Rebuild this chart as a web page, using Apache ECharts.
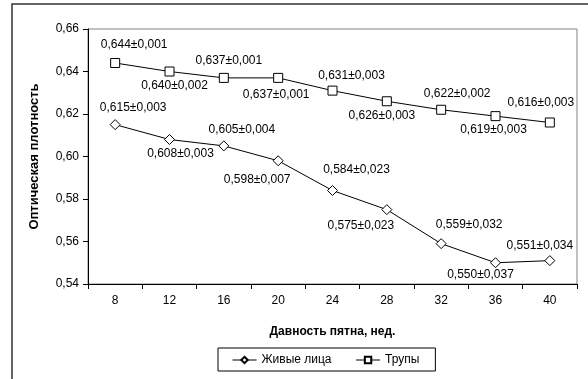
<!DOCTYPE html>
<html>
<head>
<meta charset="utf-8">
<script src="https://cdn.jsdelivr.net/npm/echarts@6/dist/echarts.min.js"></script>
<style>
  html, body { margin: 0; padding: 0; background: #fff; }
  #chart { width: 588px; height: 379px; }
</style>
</head>
<body>
<div id="chart"></div>
<script>
// weeks since the stain was made
const weeks = ["8", "12", "16", "20", "24", "28", "32", "36", "40"];

// live persons: mean optical density and its error
const liveMean = [0.615, 0.608, 0.605, 0.598, 0.584, 0.575, 0.559, 0.550, 0.551];
const liveErr = ["0,003", "0,003", "0,004", "0,007", "0,023", "0,023", "0,032", "0,037", "0,034"];

// corpses
const deadMean = [0.644, 0.640, 0.637, 0.637, 0.631, 0.626, 0.622, 0.619, 0.616];
const deadErr = ["0,001", "0,002", "0,001", "0,001", "0,003", "0,003", "0,002", "0,003", "0,003"];

// label nudges relative to each marker (px)
const liveLabelOffset = [[18, -17], [11, 14], [18, -16], [-21, 19], [24, -21], [-26, 16], [28, -19], [-15, 12], [-10, -15]];
const deadLabelOffset = [[19, -18], [5, 14], [5, -17], [-2, 17], [19, -15], [-5, 14], [16, -16], [-2, 14], [-9, -20]];

const fmt = (v) => v.toFixed(3).replace(".", ",");

function buildData(means, errs, offsets) {
  return means.map((v, i) => ({
    value: v,
    label: {
      show: true,
      position: "inside",
      offset: offsets[i],
      formatter: fmt(v) + "±" + errs[i],
    },
  }));
}

const chart = echarts.init(document.getElementById("chart"));
const font = "Liberation Sans, Arial, sans-serif";

chart.setOption({
  animation: false,
  textStyle: { fontFamily: font, color: "#000" },
  graphic: [
    {
      type: "rect",
      shape: { x: 12, y: 4, width: 600, height: 400 },
      style: { fill: "none", stroke: "#333", lineWidth: 1.5 },
      silent: true,
    },
  ],
  grid: {
    left: 88, top: 29, right: 11, bottom: 95,
    show: true, borderColor: "#808080", borderWidth: 1,
  },
  legend: {
    left: 218, top: 348,
    padding: [6, 16, 5, 14],
    borderColor: "#000", borderWidth: 1,
    itemWidth: 24, itemHeight: 8, itemGap: 24,
    lineStyle: { width: 1 },
    textStyle: { fontFamily: font, fontSize: 12, color: "#000" },
    data: ["Живые лица", "Трупы"],
  },
  xAxis: {
    type: "category",
    data: weeks,
    boundaryGap: true,
    name: "Давность пятна, нед.",
    nameLocation: "middle",
    nameGap: 42,
    nameTextStyle: { fontWeight: "bold", fontSize: 12, color: "#000" },
    axisLine: { lineStyle: { color: "#000", width: 1 } },
    axisTick: { show: true, alignWithLabel: false, length: 5, lineStyle: { color: "#000" } },
    axisLabel: { fontSize: 12, color: "#000", margin: 11 },
    splitLine: { show: false },
  },
  yAxis: {
    type: "value",
    min: 0.54, max: 0.66, interval: 0.02,
    name: "Оптическая плотность",
    nameLocation: "middle",
    nameGap: 47,
    nameTextStyle: { fontWeight: "bold", fontSize: 13, color: "#000" },
    axisLine: { show: true, lineStyle: { color: "#000", width: 1 } },
    axisTick: { show: true, length: 5, lineStyle: { color: "#000" } },
    axisLabel: { fontSize: 12, color: "#000", margin: 9, formatter: (v) => v.toFixed(2).replace(".", ",") },
    splitLine: { show: false },
  },
  series: [
    {
      name: "Живые лица",
      type: "line",
      data: buildData(liveMean, liveErr, liveLabelOffset),
      symbol: "diamond",
      symbolSize: 10,
      lineStyle: { color: "#000", width: 1 },
      itemStyle: { color: "#fff", borderColor: "#000", borderWidth: 1 },
      label: { fontSize: 12, color: "#000", fontFamily: font },
    },
    {
      name: "Трупы",
      type: "line",
      data: buildData(deadMean, deadErr, deadLabelOffset),
      symbol: "rect",
      symbolSize: 9,
      lineStyle: { color: "#000", width: 1 },
      itemStyle: { color: "#fff", borderColor: "#000", borderWidth: 1 },
      label: { fontSize: 12, color: "#000", fontFamily: font },
    },
  ],
});
</script>
</body>
</html>
